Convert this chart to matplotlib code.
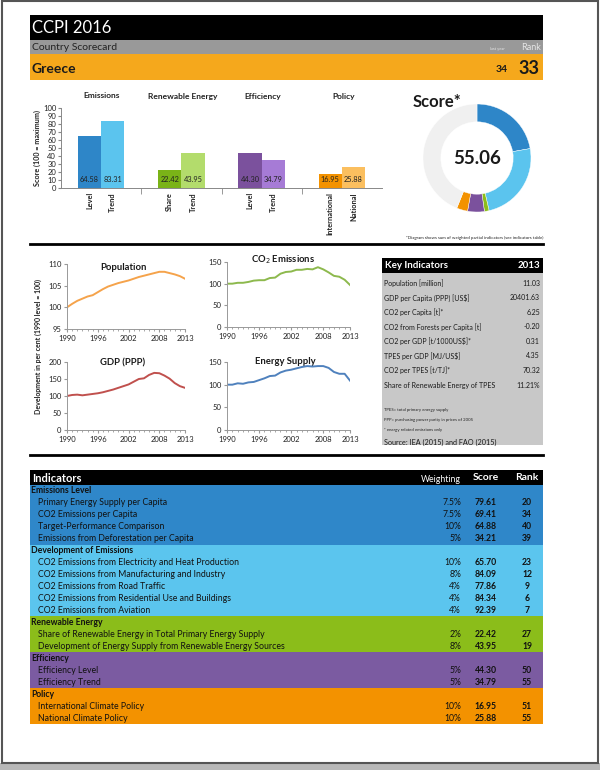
import matplotlib
matplotlib.use("Agg")
import matplotlib.pyplot as plt
from matplotlib.patches import Rectangle

plt.rcParams['font.family'] = ['Lato', 'DejaVu Sans']

W, H = 600, 770

# scorecard bars
groups = ['Emissions', 'Renewable Energy', 'Efficiency', 'Policy']
bar_labels = [['Level', 'Trend'], ['Share', 'Trend'], ['Level', 'Trend'], ['International', 'National']]
bar_values = [[64.58, 83.31], [22.42, 43.95], [44.30, 34.79], [16.95, 25.88]]
bar_colors = [['#2e86c8', '#5bc4ee'], ['#7ab317', '#b3dc6c'],
              ['#7b519d', '#a67bd6'], ['#f39200', '#fbbf5f']]

# donut
score = '55.06'
donut_values = [22.2, 24.2, 1.4, 5.0, 3.3, 43.9]
donut_colors = ['#2e86c8', '#5bc4ee', '#8dbe1a', '#7b519d', '#f39200', '#f0f0f0']

# development since 1990 (1990 = 100)
years = list(range(1990, 2014))
population = [100, 100.8, 101.5, 102.0, 102.5, 102.8, 103.5, 104.2, 104.8, 105.2, 105.6, 105.9,
              106.2, 106.6, 107.0, 107.3, 107.6, 107.9, 108.2, 108.2, 107.9, 107.6, 107.2, 106.6]
co2 = [100, 100, 102, 102, 104, 107, 108, 108, 113, 114, 123, 127,
       128, 132, 132, 134, 133, 138, 133, 126, 118, 116, 109, 97]
gdp = [100, 103, 104, 102, 104, 106, 108, 111, 115, 119, 124, 129,
       134, 142, 150, 152, 162, 168, 167, 160, 151, 138, 129, 124]
energy = [100, 100, 103, 102, 105, 106, 110, 114, 119, 120, 127, 131,
          133, 136, 139, 141, 140, 141, 141, 137, 128, 124, 124, 109]

# key indicators
key_names = ['Population [million]', 'GDP per Capita (PPP) [US$]', 'CO2 per Capita [t]*',
             'CO2 from Forests per Capita [t]', 'CO2 per GDP [t/1000US$]*', 'TPES per GDP [MJ/US$]',
             'CO2 per TPES [t/TJ]*', 'Share of Renewable Energy of TPES']
key_values = ['11.03', '20401.63', '6.25', '-0.20', '0.31', '4.35', '70.32', '11.21%']
key_notes = ['TPES= total primary energy supply', 'PPP= purchasing power parity in prices of 2005',
             '* energy related emissions only']

# indicators table
sections = ['Emissions Level', 'Development of Emissions', 'Renewable Energy', 'Efficiency', 'Policy']
section_colors = ['#2f87c9', '#5bc5ee', '#8bbd1a', '#7b5ba1', '#f39200']
ind_names = [
    ['Primary Energy Supply per Capita', 'CO2 Emissions per Capita',
     'Target-Performance Comparison', 'Emissions from Deforestation per Capita'],
    ['CO2 Emissions from Electricity and Heat Production', 'CO2 Emissions from Manufacturing and Industry',
     'CO2 Emissions from Road Traffic', 'CO2 Emissions from Residential Use and Buildings',
     'CO2 Emissions from Aviation'],
    ['Share of Renewable Energy in Total Primary Energy Supply',
     'Development of Energy Supply from Renewable Energy Sources'],
    ['Efficiency Level', 'Efficiency Trend'],
    ['International Climate Policy', 'National Climate Policy'],
]
ind_weights = [['7.5%', '7.5%', '10%', '5%'], ['10%', '8%', '4%', '4%', '4%'],
               ['2%', '8%'], ['5%', '5%'], ['10%', '10%']]
ind_scores = [['79.61', '69.41', '64.88', '34.21'], ['65.70', '84.09', '77.86', '84.34', '92.39'],
              ['22.42', '43.95'], ['44.30', '34.79'], ['16.95', '25.88']]
ind_ranks = [['20', '34', '40', '39'], ['23', '12', '9', '6', '7'], ['27', '19'], ['50', '55'], ['51', '55']]


def px(x0, y0, x1, y1):
    return [x0 / W, 1 - y1 / H, (x1 - x0) / W, (y1 - y0) / H]


fig = plt.figure(figsize=(W / 100, H / 100), dpi=100)
ax0 = fig.add_axes([0, 0, 1, 1], zorder=0)
ax0.set_xlim(0, W)
ax0.set_ylim(H, 0)
ax0.axis('off')


def rect(x0, y0, x1, y1, color, **kw):
    ax0.add_patch(Rectangle((x0, y0), x1 - x0, y1 - y0, facecolor=color, edgecolor='none', **kw))


def txt(x, y, s, **kw):
    kw.setdefault('va', 'center')
    ax0.text(x, y, s, **kw)


# page frame
rect(0, 763, W, H, '#b8b8b8')
ax0.add_patch(Rectangle((1.5, 1), 596, 762, facecolor='none', edgecolor='#555555', lw=1.5))

# header
rect(30, 15, 543, 40, 'black')
rect(30, 40, 543, 54, '#999999')
rect(30, 54, 543, 80, '#f5a81c')
txt(32, 28, 'CCPI 2016', color='white', fontsize=12)
txt(32, 47.5, 'Country Scorecard', color='#222222', fontsize=7.5)
txt(497, 49, 'last year', color='#e5e5e5', fontsize=3, ha='center')
txt(541, 47, 'Rank', color='#e5e5e5', fontsize=6.5, ha='right')
txt(32, 69, 'Greece', color='#1a1a1a', fontsize=10, fontweight='bold')
txt(502, 70, '34', color='#1a1a1a', fontsize=7.5, fontweight='bold', ha='center')
txt(529, 68, '33', color='#1a1a1a', fontsize=13, fontweight='bold', ha='center')

# bar chart
ax_bar = fig.add_axes(px(61, 108, 382, 188), zorder=2)
ax_bar.set_facecolor('none')
positions, labels = [], []
for g in range(len(groups)):
    for k in range(2):
        pos = g + (k - 0.5) * 0.29
        ax_bar.bar(pos, bar_values[g][k], width=0.29, color=bar_colors[g][k])
        ax_bar.text(pos, 10, f'{bar_values[g][k]:.2f}', ha='center', va='center',
                    fontsize=5.3, color='#222222')
        positions.append(pos)
        labels.append(bar_labels[g][k])
    txt(102 + 80.5 * g, 96, groups[g], fontsize=6, fontweight='bold', ha='center', color='#222222')
ax_bar.set_xlim(-0.5, 3.5)
ax_bar.set_ylim(0, 100)
ax_bar.set_yticks(range(0, 101, 10))
ax_bar.set_xticks(positions)
ax_bar.set_xticklabels(labels, rotation=90, fontsize=5.3, fontweight='bold', color='#222222')
ax_bar.set_xticks([0.5, 1.5, 2.5], minor=True)
ax_bar.tick_params(axis='x', which='major', length=0, pad=3)
ax_bar.tick_params(axis='x', which='minor', length=4, color='#888888')
ax_bar.tick_params(axis='y', labelsize=5.5, length=2, color='#888888', pad=1.5, labelcolor='#222222')
for s in ['top', 'right']:
    ax_bar.spines[s].set_visible(False)
for s in ['left', 'bottom']:
    ax_bar.spines[s].set_color('#888888')
    ax_bar.spines[s].set_linewidth(0.7)
txt(37, 148, 'Score (100 = maximum)', rotation=90, fontsize=5.2, fontweight='bold', ha='center', color='#222222')
txt(543, 238, '*Diagram shows sum of weighted partial indicators (see indicators table)',
    fontsize=3.2, ha='right', color='#222222')

# donut
ax_d = fig.add_axes(px(423, 104, 531, 212), zorder=2)
ax_d.pie(donut_values, colors=donut_colors, startangle=90, counterclock=False,
         wedgeprops=dict(width=0.33, edgecolor='white', linewidth=0.3))
ax_d.set_xlim(-1, 1)
ax_d.set_ylim(-1, 1)
ax_d.text(0, 0, score, ha='center', va='center', fontsize=13.5, fontweight='bold', color='#1a1a1a')
txt(437, 102, 'Score*', fontsize=12, fontweight='bold', ha='center', color='#1a1a1a')

ax0.plot([30, 543], [243.5, 243.5], color='black', lw=2)

# development line charts
panels = [
    (population, '#f5a34b', 'Population', (67, 264, 185, 329), (95, 110), [95, 100, 105, 110], (123, 267)),
    (co2, '#8db94d', 'CO$_2$ Emissions', (227, 262, 350, 327), (0, 150), [0, 50, 100, 150], (283, 260)),
    (gdp, '#c0504d', 'GDP (PPP)', (67, 362, 185, 430), (0, 200), [0, 50, 100, 150, 200], (123, 363)),
    (energy, '#4f81bd', 'Energy Supply', (227, 362, 350, 430), (0, 150), [0, 50, 100, 150], (285, 362)),
]
for values, color, title, box, ylim, yticks, tpos in panels:
    ax = fig.add_axes(px(*box), zorder=2)
    ax.set_facecolor('none')
    ax.plot(years, values, color=color, lw=1.4)
    ax.set_xlim(1990, 2013)
    ax.set_ylim(*ylim)
    ax.set_yticks(yticks)
    ax.set_xticks([1990, 1996, 2002, 2008, 2013])
    ax.set_xticks(years, minor=True)
    ax.tick_params(labelsize=5.5, length=2, color='#999999', pad=2, labelcolor='#222222')
    ax.tick_params(which='minor', length=1.2, color='#999999')
    for s in ['top', 'right']:
        ax.spines[s].set_visible(False)
    for s in ['left', 'bottom']:
        ax.spines[s].set_color('#999999')
        ax.spines[s].set_linewidth(0.7)
    txt(tpos[0], tpos[1], title, fontsize=6.8, fontweight='bold', ha='center', color='#1a1a1a', zorder=5)
txt(38, 347, 'Development in per cent (1990 level = 100)', rotation=90, fontsize=5,
    fontweight='bold', ha='center', color='#222222')

# key indicators
rect(382, 258, 543, 445, '#c8c8c8')
rect(382, 258, 543, 273, 'black')
txt(385, 266, 'Key Indicators', color='white', fontsize=7, fontweight='bold')
txt(540, 266, '2013', color='white', fontsize=7, fontweight='bold', ha='right')
for i, (name, val) in enumerate(zip(key_names, key_values)):
    y = 283 + i * 14.6
    txt(384, y, name, fontsize=5, color='#1a1a1a')
    txt(540, y, val, fontsize=5, color='#1a1a1a', ha='right')
for i, note in enumerate(key_notes):
    txt(384, 410 + i * 10, note, fontsize=3.1, color='#222222')
txt(384, 442, 'Source: IEA (2015) and FAO (2015)', fontsize=5.2, color='#1a1a1a')

ax0.plot([30, 543], [455, 455], color='black', lw=2)

# indicators table
rect(30, 470, 543, 485, 'black')
txt(32, 478, 'Indicators', color='white', fontsize=8, fontweight='bold')
txt(461, 479, 'Weighting', color='white', fontsize=6.3, ha='right')
txt(486, 478, 'Score', color='white', fontsize=7.5, fontweight='bold', ha='center')
txt(527, 478, 'Rank', color='white', fontsize=7.5, fontweight='bold', ha='center')
row_h = 11.95
y = 485
for s, sec in enumerate(sections):
    n = len(ind_names[s]) + 1
    rect(30, y, 543, y + n * row_h, section_colors[s])
    txt(31, y + row_h / 2, sec, fontsize=6.2, fontweight='bold', color='#111111')
    for i in range(len(ind_names[s])):
        yy = y + (i + 1.5) * row_h
        txt(38, yy, ind_names[s][i], fontsize=6.3, color='#111111')
        txt(461, yy, ind_weights[s][i], fontsize=6.2, color='#111111', ha='right')
        txt(486, yy, ind_scores[s][i], fontsize=6.2, fontweight='bold', color='#111111', ha='center')
        txt(527, yy, ind_ranks[s][i], fontsize=6.2, fontweight='bold', color='#111111', ha='center')
    y += n * row_h

fig.savefig('out.png', dpi=100)
